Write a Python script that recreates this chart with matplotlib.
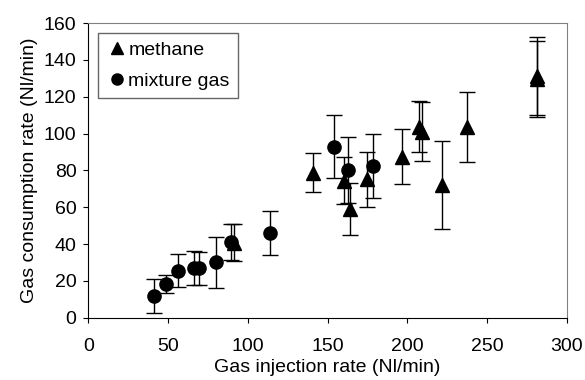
import numpy as np
import matplotlib.pyplot as plt
from matplotlib.lines import Line2D

plt.rcParams['font.family'] = ['Liberation Sans', 'DejaVu Sans']
plt.rcParams['font.size'] = 14

# methane
meth_x = [91.3, 141, 160.4, 164, 175, 196.4, 207.6, 209, 221.6, 237.1, 281, 281]
meth_y = [40.8, 78.8, 74.5, 58.9, 75.2, 87.5, 103.8, 101.1, 72.1, 103.5, 131.5, 129.7]
meth_e = [10, 10.7, 13, 14, 15, 15, 14, 16, 24, 19, 21.2, 20.8]

# mixture gas
mix_x = [41.2, 48.5, 56, 66.4, 69.6, 79.8, 89.2, 113.9, 154.1, 162.9, 178.4]
mix_y = [11.8, 18.3, 25.4, 27, 26.8, 30.1, 41.1, 45.9, 92.9, 80.3, 82.4]
mix_e = [9, 5, 9, 9, 9, 14, 10, 12, 17, 18, 17.6]

fig = plt.figure(figsize=(5.85, 3.8), dpi=100)
ax = fig.add_axes([0.151, 0.164, 0.818, 0.775])

ax.errorbar(meth_x, meth_y, yerr=meth_e, fmt='^', color='black', ms=10,
            capsize=5.5, elinewidth=1, capthick=1)
ax.errorbar(mix_x, mix_y, yerr=mix_e, fmt='o', color='black', ms=9.5,
            capsize=5.5, elinewidth=1, capthick=1)

ax.set_xlim(0, 300)
ax.set_ylim(0, 160)
ax.set_xticks(np.arange(0, 301, 50))
ax.set_yticks(np.arange(0, 161, 20))
ax.tick_params(direction='out', length=3.5, labelsize=14)
ax.tick_params(axis='x', pad=11)
ax.tick_params(axis='y', pad=5)
for s in ['top', 'right']:
    ax.spines[s].set_color('#808080')
ax.set_xlabel('Gas injection rate (Nl/min)', fontsize=14)
ax.xaxis.set_label_coords(0.5, -0.14)
ax.set_ylabel('Gas consumption rate (Nl/min)', fontsize=14, labelpad=4)

handles = [Line2D([], [], ls='none', marker='^', color='black', ms=8),
           Line2D([], [], ls='none', marker='o', color='black', ms=8)]
leg = ax.legend(handles, ['methane', 'mixture gas'], loc='upper left',
                handletextpad=0.1, handlelength=1.0, fancybox=False,
                edgecolor='#404040', fontsize=14, borderaxespad=0.5,
                borderpad=0.45, labelspacing=0.65)
leg.get_frame().set_linewidth(1)

fig.savefig('out.png', dpi=100)
